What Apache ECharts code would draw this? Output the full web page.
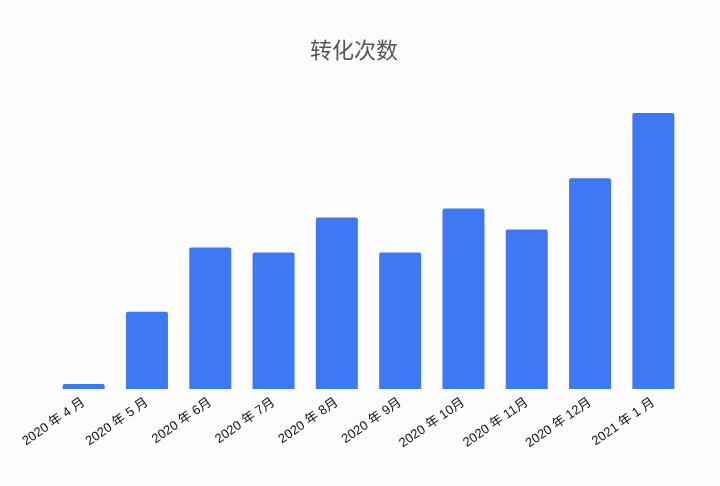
<!DOCTYPE html>
<html><head><meta charset="utf-8">
<script src="https://cdn.jsdelivr.net/npm/echarts@6/dist/echarts.min.js"></script>
<style>html,body{margin:0;padding:0;background:#fdfdfe;}#c{width:720px;height:486px;}</style>
</head><body><div id="c"></div>
<script>
const categories = ['2020 年 4 月','2020 年 5 月','2020 年 6月','2020 年 7月','2020 年 8月','2020 年 9月','2020 年 10月','2020 年 11月','2020 年 12月','2021 年 1 月'];
const conversions = [5, 77, 141, 136, 171, 136, 180, 159, 210, 275];
const chart = echarts.init(document.getElementById('c'));
chart.setOption({
  backgroundColor: '#fdfdfe',
  animation: false,
  title: {
    text: '转化次数', left: 305, top: 34,
    textStyle: {fontSize: 22, fontWeight: 'normal', color: '#555', fontFamily: 'Noto Sans CJK SC'}
  },
  grid: {left: 52, right: 35, top: 88, bottom: 97},
  xAxis: {
    type: 'category', data: categories,
    axisLine: {show: false}, axisTick: {show: false},
    axisLabel: {rotate: 35, interval: 0, margin: 12, fontSize: 13, color: '#111',
      fontFamily: '"Liberation Sans", "Noto Sans CJK SC", sans-serif'}
  },
  yAxis: {type: 'value', min: 0, max: 300, show: false, splitLine: {show: false}},
  series: [{
    type: 'bar', data: conversions, barWidth: 42,
    itemStyle: {color: '#3e78f4', borderRadius: [2, 2, 0, 0]}
  }]
});
</script></body></html>
